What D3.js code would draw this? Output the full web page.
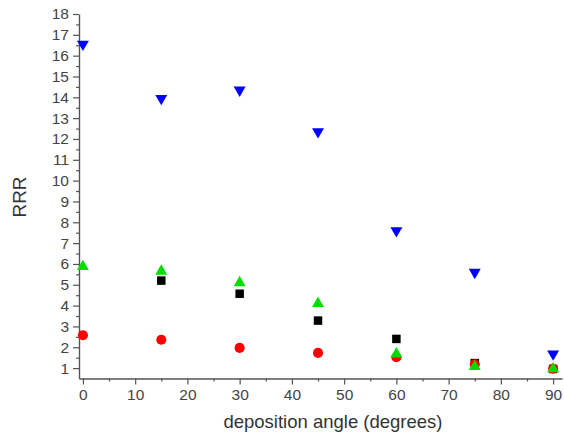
<!DOCTYPE html>
<html>
<head>
<meta charset="utf-8">
<script src="https://cdnjs.cloudflare.com/ajax/libs/d3/7.8.5/d3.min.js"></script>
<style>
  html, body { margin: 0; padding: 0; background: #fff; }
  svg { display: block; font-family: "Liberation Sans", Arial, sans-serif; }
</style>
</head>
<body>
<svg id="chart" width="564" height="436"></svg>
<script>
// Deposition angles (degrees) and RRR for each series.
var angles   = [0, 15, 30, 45, 60, 75, 90];
var blueRRR  = [16.55, 13.95, 14.35, 12.35, 7.6, 5.6, 1.68];
var greenRRR = [5.87, 5.65, 5.1, 4.1, 1.68, 1.07, 0.96];
var blackRRR = [null, 5.2, 4.57, 3.28, 2.4, 1.24, 0.96];
var redRRR   = [2.58, 2.36, 1.97, 1.73, 1.52, 1.18, 0.97];

var xTicks = [0, 10, 20, 30, 40, 50, 60, 70, 80, 90];
var yTicks = d3.range(1, 19);

var svg = d3.select('#chart');
var axisColor = '#555';

var x = d3.scaleLinear().domain([-0.75, 91.7]).range([79, 562]);
var y = d3.scaleLinear().domain([0.5, 18]).range([378.5, 14]);

// Minor ticks first.
svg.append('g')
   .attr('transform', 'translate(0,378.5)')
   .call(d3.axisBottom(x).tickValues(d3.range(5, 91, 10)).tickSize(3).tickFormat(''))
   .call(function(g) { g.select('.domain').remove(); });
svg.append('g')
   .attr('transform', 'translate(79,0)')
   .call(d3.axisLeft(y).tickValues(d3.range(1.5, 18, 1)).tickSize(3).tickFormat(''))
   .call(function(g) { g.select('.domain').remove(); });

// Major axes.
svg.append('g')
   .attr('transform', 'translate(0,378.5)')
   .call(d3.axisBottom(x).tickValues(xTicks).tickSize(6).tickSizeOuter(0).tickPadding(4));
svg.append('g')
   .attr('transform', 'translate(79,0)')
   .call(d3.axisLeft(y).tickValues(yTicks).tickSize(6).tickSizeOuter(0).tickPadding(4));

svg.selectAll('.tick line').attr('stroke', axisColor).attr('stroke-width', 1.2);
svg.selectAll('.domain').attr('stroke', axisColor).attr('stroke-width', 1.4);
svg.selectAll('.tick text')
   .attr('fill', '#444')
   .style('font-size', '15.5px')
   .style('font-family', '"Liberation Sans", Arial, sans-serif');

// Axis titles.
svg.append('text')
   .attr('x', 333).attr('y', 428)
   .attr('text-anchor', 'middle')
   .attr('fill', '#333')
   .style('font-size', '18.5px')
   .text('deposition angle (degrees)');
svg.append('text')
   .attr('transform', 'translate(26,197) rotate(-90)')
   .attr('text-anchor', 'middle')
   .attr('fill', '#333')
   .style('font-size', '19px')
   .text('RRR');

function points(vals) {
  return angles.map(function(a, i) { return { x: a, y: vals[i] }; })
               .filter(function(d) { return d.y != null; });
}

function plot(vals, shape, size, color, rot) {
  svg.append('g').selectAll('path')
     .data(points(vals)).enter().append('path')
     .attr('d', d3.symbol().type(shape).size(size))
     .attr('transform', function(d) {
       return 'translate(' + x(d.x) + ',' + y(d.y) + ')' + (rot ? ' rotate(180)' : '');
     })
     .attr('fill', color);
}

plot(blackRRR, d3.symbolSquare, 72, '#000', false);
plot(redRRR, d3.symbolCircle, 80, '#f00', false);
plot(greenRRR, d3.symbolTriangle, 62, '#00dd00', false);
plot(blueRRR, d3.symbolTriangle, 62, '#0000ff', true);
</script>
</body>
</html>
